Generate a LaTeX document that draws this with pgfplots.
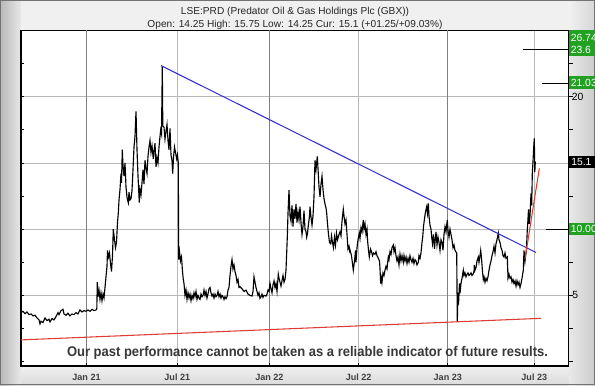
\documentclass[border=0pt]{standalone}
\usepackage{pgfplots}
\pgfplotsset{compat=1.18}
\usepackage{fontspec}
\setmainfont{Liberation Sans}
\definecolor{lblgreen}{RGB}{34,160,34}
\definecolor{trendblue}{RGB}{51,51,204}
\definecolor{trendred}{RGB}{222,60,50}
\begin{document}
\begin{tikzpicture}[x=0.75pt,y=0.75pt]
\useasboundingbox (0,0) rectangle (595,385);
\fill[black!11] (0,0) rectangle (595,385);
\shade[left color=black!28, right color=black!9] (0,0) rectangle (21,385);
\fill[black!6] (21,354.5) rectangle (569,385);
\shade[top color=black!6, bottom color=black!14] (21,0) rectangle (569,19);
\shade[left color=black!9,right color=black!20] (569,0) rectangle (595,354.5);
\shade[left color=black!6,right color=black!16] (569,354.5) rectangle (595,385);
\draw[black!55, line width=0.75pt] (0.4,0.4) rectangle (594.6,384.6);
\fill[white] (21,19) rectangle (568.5,354.5);
\begin{axis}[
  at={(15.75pt,14.25pt)}, anchor=south west,
  scale only axis, width=410.625pt, height=251.625pt,
  xmin=21, xmax=568.5, ymin=-0.33, ymax=25,
  axis line style={black, line width=0.8pt},
  xtick={177.3,358.6,534.3}, xticklabels={},
  extra x ticks={86.5,269.4,447.8}, extra x tick labels={},
  extra x tick style={major grid style={black!50, line width=0.6pt}},
  ytick={5,10,15,20}, yticklabels={},
  minor ytick={0,2.5,7.5,12.5,17.5,22.5},
  xmajorgrids, ymajorgrids,
  major grid style={black!28, line width=0.6pt},
  tick style={black, line width=0.6pt},
  major tick length=2pt, minor tick length=2pt,
  ytick pos=left, xtick pos=bottom,
  clip=false,
]
% price series
\addplot[black, line width=0.85pt] coordinates {
(21,3.70)(23,3.80)(25,3.62)(27,3.75)(29,3.55)(31,3.60)(33,3.45)(35,3.50)(37,3.30)(39,3.15)(40,2.85)(41,3.05)(43,2.95)(45,3.30)(47,3.10)(49,3.20)(50,3.00)(52,3.25)(54,3.15)(56,3.40)(58,3.70)(59,3.55)(61,3.85)(63,3.95)(64,3.60)(66,3.50)(68,3.65)(70,3.45)(72,3.60)(74,3.55)(76,3.70)(78,3.60)(80,3.90)(82,3.75)(84,3.85)(86,3.80)(88,3.90)(90,3.80)(92,3.95)(94,3.85)(96,3.90)(96.8,4.0)
(97.3,6.0)(98,4.9)(99,5.4)(100,4.7)(101,5.2)(102,4.6)(103,5.1)(104,4.8)(105,5.6)(106,6.4)(107,7.2)(107.5,8.4)(108.5,7.9)(109.5,8.2)(110.5,7.4)(111.5,6.8)(112.5,8.0)(113.3,10.0)(114.5,9.2)(115.5,8.6)(116.5,9.0)(117.5,10.5)(118.3,11.2)(119,12.2)(120,13.0)(121,14.2)(121.5,13.5)(122.3,16.0)(123,14.8)(124,14.0)(125,15.0)(126,13.2)(127,12.4)(128.3,12.0)(129,12.8)(130,12.2)(131,12.3)(132,12.9)(133,14.5)(134,16.2)(135,17.0)(136,18.9)(137,16.0)(138,14.0)(139.3,12.0)(140,13.0)(141,12.6)(142,13.5)(143,14.5)(144,13.4)(145,15.2)(146,14.6)(147,14.2)(148,15.5)(149,16.2)(150,16.7)(151,15.8)(152,16.3)(153.3,15.3)(154,15.9)(155,16.5)(156,14.7)(157,15.4)(158,15.0)(159,16.2)(160,17.0)(160.7,17.5)(161.5,17.2)(162.3,22.3)(162.8,17.8)(164,17.7)(165,16.8)(166,17.4)(167,17.9)(168,16.7)(169,16.0)(170,17.6)(171,15.6)(172,15.2)(172.7,14.2)(173.5,15.4)(174.5,16.2)(175.5,15.8)(176.7,15.3)(177.5,15.6)(178.3,15.0)
(178.7,7.7)(179.5,8.3)(180.5,7.6)(181.5,7.9)(182.5,6.8)(183.3,6.2)(184,5.9)(185,5.0)(186,5.4)(187,4.7)(188,5.2)(189,4.8)(190,5.1)(191,4.6)(192,5.0)(193,4.75)(194,5.2)(195,4.9)(196,5.3)(197,4.7)(198,5.0)(199,4.8)(200,4.7)(201,5.1)(202,4.9)(203,5.0)(204,5.4)(205,5.0)(206,5.3)(207,4.8)(208,5.1)(209,5.5)(210,5.6)(211,5.2)(212,4.95)(213,5.1)(214,4.8)(215,5.1)(216,4.9)(217,5.0)(218,5.3)(219,4.9)(220,5.1)(221,4.8)(222,5.0)(223,4.9)(224,4.7)(225,4.9)(226,4.75)(227,4.9)(228,5.4)(229,5.6)(230,6.5)(231,7.2)(232,7.7)(233,7.0)(234,7.3)(235,6.8)(236,6.5)(237,6.0)(238,6.2)(239,5.6)
(240,5.66)(242,5.5)(244,5.3)(246,5.4)(248,5.1)(250,5.0)(252,4.95)(253,5.3)(254,6.4)(255,6.0)(256,5.6)(257,5.3)(258,5.0)(259,5.2)(260,4.78)(261,4.9)(262,5.1)(263,4.85)(264,5.0)(266,4.95)(267,5.1)(268,5.4)(269,5.3)(270,5.9)(271,5.5)(272,5.2)(273,5.8)(274,6.1)(275,5.6)(276,5.9)(277,5.3)(278.3,6.6)(279,6.3)(280,6.0)(281,5.7)(282,6.1)(283,6.5)(284,6.0)(285,6.2)(286,6.9)(287.3,9.4)(288,11.2)(289,12.95)(290,11.0)(291,10.6)(292,11.8)(293,10.2)(294,11.5)(295,10.8)(296,11.9)(297,10.5)(298,11.3)(299,10.7)(300,11.7)(301,10.5)(302,9.6)(303,10.2)(304,11.4)(305,10.0)(306,9.8)(306.7,9.4)(307.5,9.7)(308.5,10.4)(309.5,11.0)(310,11.7)(311,10.9)(312,10.3)(313,11.0)(314,12.45)(315,15.2)(316,14.5)(317.3,15.5)(318,14.6)(319,13.2)(320,12.45)(321,13.4)(322,14.0)(323,13.0)(324,12.3)(325,11.9)(326,11.6)(326.7,11.2)(327.5,10.4)(328.5,9.6)(329.5,9.0)(330.7,8.9)(331.5,9.5)(332.5,9.0)(333.5,8.6)(334.5,9.4)(335.5,8.8)(336.5,9.7)(337.5,9.2)(338.3,9.4)(339,9.6)(340,9.8)(341,9.5)(342,10.6)(343.3,11.5)(344,11.0)(345,10.4)(346,10.7)(347,9.6)(348,8.5)(349,8.7)(350,8.2)
(350,8.43)(351.5,8.0)(353.3,6.9)(354.5,7.6)(355.5,8.4)(356,7.5)(357,8.6)(358,9.2)(359.3,9.7)(360,9.3)(361,10.1)(362,9.8)(363.3,10.7)(364,10.0)(365,10.4)(366,9.6)(367,10.0)(367.5,9.2)(368.5,8.4)(369.3,7.9)(370.5,8.5)(371.5,8.3)(372.5,8.0)(373.5,8.2)(375,8.1)(376,8.3)(377,8.0)(378.3,7.8)(379.5,7.6)(380,7.0)(380.7,5.9)(381.5,6.3)(382,6.0)(383,6.7)(384,6.5)(385,6.9)(386,7.2)(387,7.0)(388.3,7.9)(389,7.7)(390,8.3)(391,8.1)(392,8.6)(393.3,8.8)(394,8.3)(395,8.6)(396,8.0)(397,7.6)(398,7.9)(399,7.3)(400,8.1)(401,7.6)(402,8.0)(403.3,7.5)(404,8.0)(405,7.6)(406,7.9)(407,7.4)(408,7.8)(409,7.5)(410,8.0)(411,7.7)(412,7.5)(413,7.8)(414,7.4)(415,7.7)(416,7.6)(417,7.3)(418.3,7.5)(419,8.0)(420,7.8)(421,8.2)(422,9.0)(422.7,9.4)(423.5,10.2)(424.5,10.8)(425.5,11.3)(426.7,11.7)(427.5,11.2)(428.3,11.95)(429,11.0)(430,10.3)(431,10.0)(431.7,9.4)(432.5,8.9)(433.5,9.6)(434.5,8.5)(435,9.0)(436,9.8)(437,8.8)(438,9.4)(439,9.0)(440,8.4)(441,9.2)(442,9.0)(443,8.4)(444,9.6)(445,10.2)(446,9.8)(447.3,10.7)(448,9.9)(449,9.4)(450,10.0)(451,9.6)(452,9.2)(453,8.6)(454,8.8)(455,8.4)(456.7,8.2)(457.3,3.0)(458,5.2)(458.5,4.3)(459.5,5.9)
(460,5.16)(461,5.9)(462,6.3)(463.3,6.9)(464,6.5)(465,6.7)(466,6.4)(467,6.6)(468,6.7)(469,6.5)(470,6.6)(471,6.7)(472,6.5)(473,6.6)(474,6.8)(474.3,7.3)(475,6.9)(476,7.1)(477,7.6)(478.3,7.9)(479,7.5)(480,8.0)(480.7,8.4)(481.5,7.8)(482.5,6.8)(483.3,6.2)(484,6.4)(485,6.0)(486,6.3)(487,6.1)(488,6.4)(489,6.9)(490,7.3)(491,7.6)(492,8.0)(493,8.3)(494,8.7)(495,8.2)(496,8.9)(497,9.2)(498.3,9.7)(499,9.2)(500,9.0)(501,8.6)(502,8.4)(503,8.0)(504,7.9)(505,8.2)(506,7.8)(507.3,7.9)(508,6.3)(509,6.6)(510,6.3)(511,6.4)(512,6.0)(513,6.2)(514,5.9)(515,6.1)(516,5.7)(517,6.1)(518,5.8)(519,6.0)(520,5.6)(521,5.9)(522,6.3)(523.3,6.9)(524,8.4)(525,7.6)(525.6,8.0)(526.4,8.4)(527.2,9.8)(527.7,10.4)(528.5,11.5)(529.2,10.4)(530,11.0)(531,12.7)(531.7,11.8)(532.3,14.2)(533,15.1)(533.7,16.2)(534.3,16.85)(534.8,14.3)(535.3,15.1)
};
% trend lines
\addplot[trendblue, line width=0.8pt] coordinates {(161,22.35)(536,8.24)};
\addplot[trendred, line width=0.8pt] coordinates {(21,1.64)(541,3.27)};
\addplot[trendred, line width=0.8pt] coordinates {(525,7.75)(539.3,14.59)};
% target lines
\addplot[black, line width=0.8pt] coordinates {(523,23.6)(568.5,23.6)};
\addplot[black, line width=0.8pt] coordinates {(541.7,21.03)(568.5,21.03)};
\addplot[black, line width=0.8pt] coordinates {(546,10)(568.5,10)};
% right-side ticks
\pgfplotsinvokeforeach{0,2.5,5,7.5,10,12.5,15,17.5,20,22.5,25}{
  \draw[black, line width=0.6pt] (axis cs:568.5,#1) -- ++(3pt,0pt);
}
\end{axis}
% titles
\node[font=\fontsize{7.6pt}{9pt}\selectfont, text=black!85] at (295,373.5) {LSE:PRD (Predator Oil \& Gas Holdings Plc (GBX))};
\node[font=\fontsize{7.6pt}{9pt}\selectfont, text=black!85] at (295,360.5) {Open: 14.25 High: 15.75 Low: 14.25 Cur: 15.1 (+01.25/+09.03\%)};
% disclaimer
\node[text=black!78, inner sep=0pt] at (307.5,32) {\resizebox{360.75pt}{7.6pt}{\bfseries Our past performance cannot be taken as a reliable indicator of future results.}};
% month labels
\foreach \xx/\lab in {86.5/Jan 21,177.3/Jul 21,269.4/Jan 22,358.6/Jul 22,447.8/Jan 23,534.3/Jul 23}
  \node[font=\bfseries\fontsize{6.8pt}{8pt}\selectfont, text=black!75] at (\xx,7.5) {\lab};
% right labels
\fill[lblgreen] (569,328.5) rectangle (595,355);
\node[anchor=west, inner sep=0pt, text=white, font=\fontsize{7.8pt}{8pt}\selectfont] at (570.5,347.5) {26.74};
\node[anchor=west, inner sep=0pt, text=white, font=\fontsize{7.8pt}{8pt}\selectfont] at (570.5,335) {23.6};
\fill[lblgreen] (569,296) rectangle (595,308.5);
\node[anchor=west, inner sep=0pt, text=white, font=\fontsize{7.8pt}{8pt}\selectfont] at (570.5,302.3) {21.03};
\node[anchor=west, inner sep=0pt, text=black, font=\fontsize{7.8pt}{8pt}\selectfont] at (571.5,288.3) {20};
\fill[black] (569,216.5) rectangle (595,229);
\node[anchor=west, inner sep=0pt, text=white, font=\fontsize{7.8pt}{8pt}\selectfont] at (571,222.8) {15.1};
\fill[lblgreen] (569,149.5) rectangle (595,162);
\node[anchor=west, inner sep=0pt, text=white, font=\fontsize{7.8pt}{8pt}\selectfont] at (570.5,155.7) {10.00};
\node[anchor=west, inner sep=0pt, text=black, font=\fontsize{7.8pt}{8pt}\selectfont] at (572,89.7) {5};
\end{tikzpicture}
\end{document}
